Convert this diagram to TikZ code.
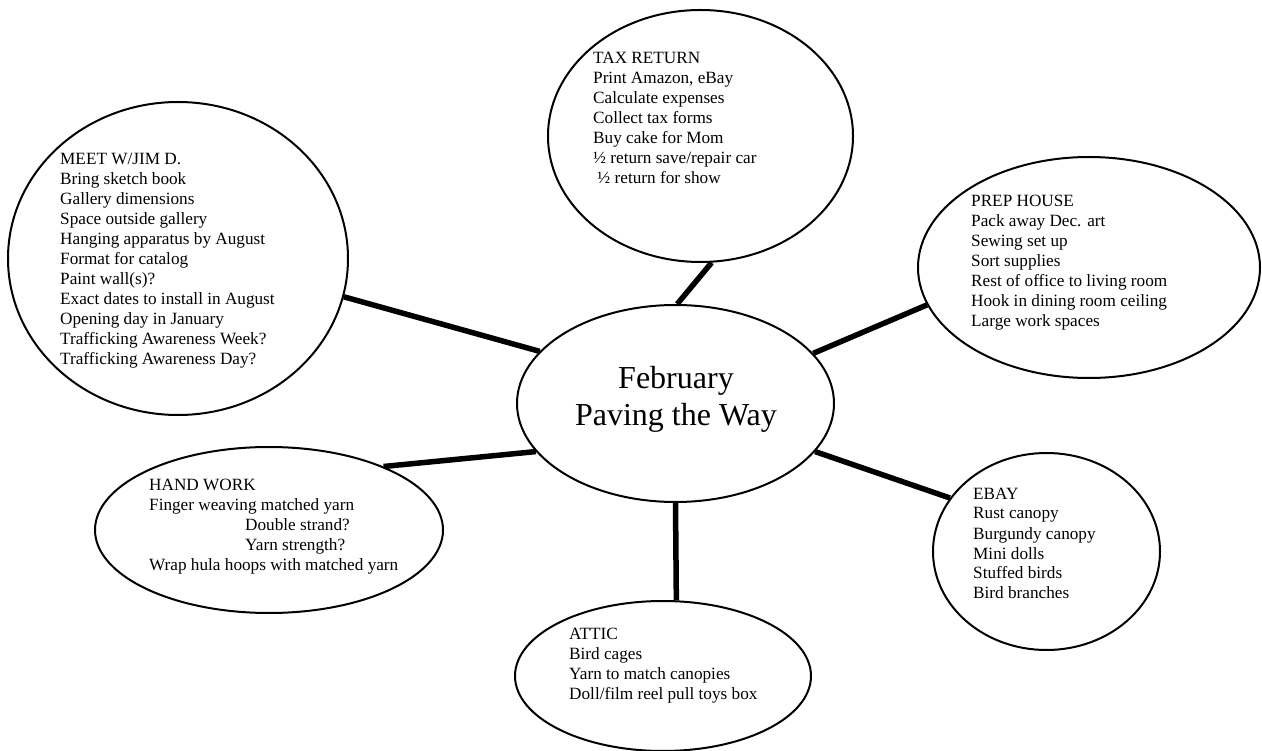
\documentclass[tikz,border=0pt]{standalone}
\usepackage{fontspec}
\setmainfont{Liberation Serif}
\usetikzlibrary{shapes.geometric}
\begin{document}
\begin{tikzpicture}[x=1pt,y=-1pt,
  bubble/.style={ellipse, draw, line width=2pt, inner sep=0pt},
  txt/.style={inner sep=0pt, anchor=base west, font=\fontsize{17.2}{20}\selectfont},
  link/.style={line width=5.5pt}]
\useasboundingbox[fill=white] (0,0) rectangle (1262,751);
% bubbles
\node[bubble, minimum width=317pt, minimum height=197pt] (c) at (675.5,403.5) {};
\node[bubble, minimum width=340pt, minimum height=313pt] (meet) at (178,258.5) {};
\node[bubble, minimum width=305pt, minimum height=252pt] (tax) at (700.5,136) {};
\node[bubble, minimum width=342pt, minimum height=221pt] (prep) at (1089,267.5) {};
\node[bubble, minimum width=227pt, minimum height=197pt] (ebay) at (1046.5,551.5) {};
\node[bubble, minimum width=348pt, minimum height=166pt] (hand) at (269,530) {};
\node[bubble, minimum width=296pt, minimum height=150pt] (attic) at (663,676) {};
% texts
\node[inner sep=0pt, anchor=base, font=\fontsize{32}{36}\selectfont] (ctxt) at (676,389)
  {\begin{tabular}[t]{@{}c@{}}February\\Paving the Way\end{tabular}};
\node[txt] (meettxt) at (60,165) {\begin{tabular}[t]{@{}l@{}}
MEET W/JIM D.\\
Bring sketch book\\
Gallery dimensions\\
Space outside gallery\\
Hanging apparatus by August\\
Format for catalog\\
Paint wall(s)?\\
Exact dates to install in August\\
Opening day in January\\
Trafficking Awareness Week?\\
Trafficking Awareness Day?\end{tabular}};
\node[txt] (taxtxt) at (593,64) {\begin{tabular}[t]{@{}l@{}}
TAX RETURN\\
Print Amazon, eBay\\
Calculate expenses\\
Collect tax forms\\
Buy cake for Mom\\
½ return save/repair car\\
\hspace*{4.25pt}½ return for show\end{tabular}};
\node[txt] (preptxt) at (971,207) {\begin{tabular}[t]{@{}l@{}}
PREP HOUSE\\
Pack away Dec. art\\
Sewing set up\\
Sort supplies\\
Rest of office to living room\\
Hook in dining room ceiling\\
Large work spaces\end{tabular}};
\node[txt] (handtxt) at (149,490) {\begin{tabular}[t]{@{}l@{}}
HAND WORK\\
Finger weaving matched yarn\\
\hspace*{96pt}Double strand?\\
\hspace*{96pt}Yarn strength?\\
Wrap hula hoops with matched yarn\end{tabular}};
\node[txt] (attictxt) at (569,639) {\begin{tabular}[t]{@{}l@{}}
ATTIC\\
Bird cages\\
Yarn to match canopies\\
Doll/film reel pull toys box\end{tabular}};
\node[txt] (ebaytxt) at (973,499) {\begin{tabular}[t]{@{}l@{}}
EBAY\\
Rust canopy\\
Burgundy canopy\\
Mini dolls\\
Stuffed birds\\
Bird branches\end{tabular}};
% connectors
\draw[link] (c.159.8) -- (meet.-13.5);
\draw[link] (c.89.1) -- (tax.275.7);
\draw[link] (c.20.2) -- (prep.193.4);
\draw[link] (c.-19.4) -- (ebay.151.7);
\draw[link] (c.199.4) -- (hand.29.6);
\draw[link] (c.270.3) -- (attic.80.3);
\end{tikzpicture}
\end{document}
